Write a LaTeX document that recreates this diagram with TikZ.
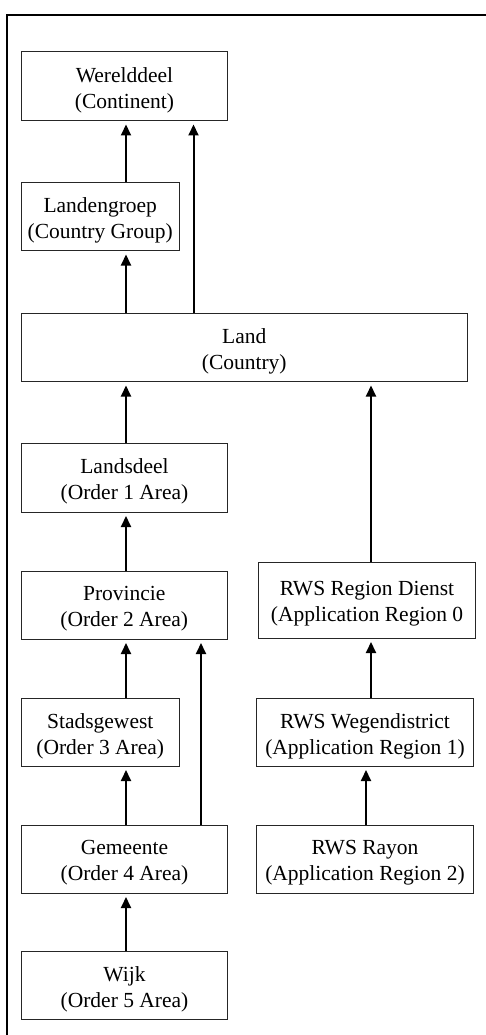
\documentclass[tikz,border=0pt]{standalone}
\usepackage{fontspec}
\setmainfont{Liberation Serif}
\usetikzlibrary{arrows.meta}
\begin{document}
\begin{tikzpicture}[x=1pt,y=-1pt,
  box/.style={draw=black!85,line width=1pt,inner sep=0pt},
  boxtext/.style={align=center,inner sep=0pt,yshift=-4pt,
    font=\fontsize{21.5}{26}\selectfont},
  arr/.style={line width=2pt,-{Triangle[length=11pt,width=10pt]}}]
\useasboundingbox (0,0) rectangle (486,1035);
\clip (0,0) rectangle (486,1035);
\draw[line width=2.4pt] (7,1100) -- (7,15) -- (520,15);
% boxes: (x1,y1) to (x2,y2)
\newcommand{\mybox}[6]{\node[box,minimum width={#3-#1},minimum height={#4-#2},
  label={[boxtext]center:#6}] (#5) at ({(#1+#3)/2},{(#2+#4)/2}) {};}
\mybox{21.5}{52}{227.5}{120.5}{wer}{Werelddeel\\(Continent)}
\mybox{21.5}{182.5}{179}{250.5}{lgr}{Landengroep\\(Country Group)}
\mybox{21.5}{313}{467}{381.5}{land}{Land\\(Country)}
\mybox{21.5}{443.5}{227.5}{512}{lsd}{Landsdeel\\(Order 1 Area)}
\mybox{21.5}{571}{227}{639}{prov}{Provincie\\(Order 2 Area)}
\mybox{258.5}{562}{475.5}{638}{rd}{RWS Region Dienst\\(Application Region 0}
\mybox{21.5}{698}{179}{766}{stad}{Stadsgewest\\(Order 3 Area)}
\mybox{256.5}{698}{473.5}{766}{wd}{RWS Wegendistrict\\(Application Region 1)}
\mybox{21.5}{825}{227.5}{893}{gem}{Gemeente\\(Order 4 Area)}
\mybox{256.5}{825}{473.5}{893}{ray}{RWS Rayon\\(Application Region 2)}
\mybox{21.5}{951.5}{227.5}{1019.5}{wijk}{Wijk\\(Order 5 Area)}
% connectors
\tikzset{gap/.style={yshift=-3.5pt}}
\draw[arr] (lgr.north -| 126,0) -- ([gap]wer.south -| 126,0);
\draw[arr] (land.north -| 193.5,0) -- ([gap]wer.south -| 193.5,0);
\draw[arr] (land.north -| 126,0) -- ([gap]lgr.south -| 126,0);
\draw[arr] (lsd.north -| 126,0) -- ([gap]land.south -| 126,0);
\draw[arr] (prov.north -| 126,0) -- ([gap]lsd.south -| 126,0);
\draw[arr] (stad.north -| 126,0) -- ([gap]prov.south -| 126,0);
\draw[arr] (gem.north -| 201,0) -- ([gap]prov.south -| 201,0);
\draw[arr] (gem.north -| 126,0) -- ([gap]stad.south -| 126,0);
\draw[arr] (wijk.north -| 126,0) -- ([gap]gem.south -| 126,0);
\draw[arr] (rd.north -| 371,0) -- ([gap]land.south -| 371,0);
\draw[arr] (wd.north -| 371,0) -- ([gap]rd.south -| 371,0);
\draw[arr] (ray.north -| 366,0) -- ([gap]wd.south -| 366,0);
\end{tikzpicture}
\end{document}
